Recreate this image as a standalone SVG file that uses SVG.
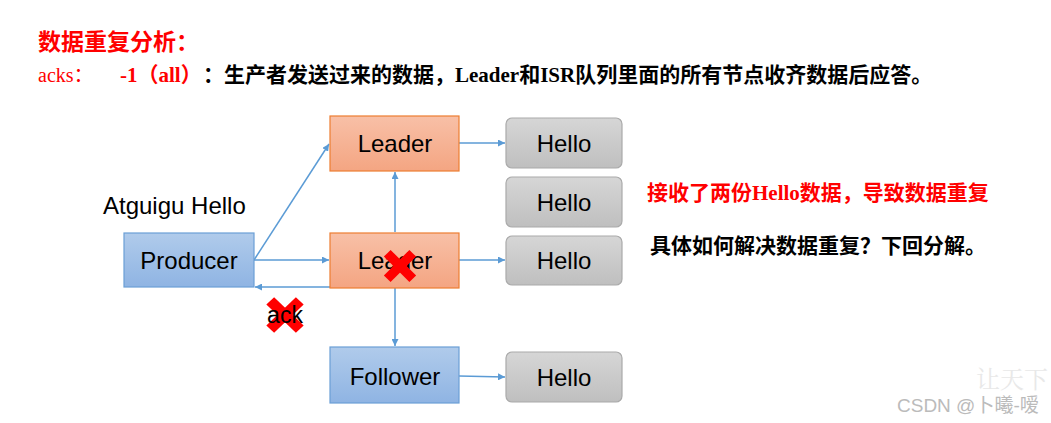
<svg xmlns="http://www.w3.org/2000/svg" width="1051" height="423" viewBox="0 0 1051 423">
<style>
.cn{font-family:"Liberation Serif","Noto Sans CJK SC",serif;font-weight:bold}
.node{font-family:"Liberation Sans",Arial,sans-serif;font-size:24px;text-anchor:middle;fill:#000}
.conn{stroke:#5b9bd5;stroke-width:1.5;fill:none}
.org{fill:url(#gOrg);stroke:#ed7d31;stroke-width:1.2}
.blu{fill:url(#gBlu);stroke:#6b9fd6;stroke-width:1.2}
.gry{fill:url(#gGry);stroke:#aaaaaa;stroke-width:1.2}
</style>
<defs>
<linearGradient id="gOrg" x1="0" y1="0" x2="0" y2="1"><stop offset="0" stop-color="#f8c0a7"/><stop offset="1" stop-color="#f4a582"/></linearGradient>
<linearGradient id="gBlu" x1="0" y1="0" x2="0" y2="1"><stop offset="0" stop-color="#b0cbeb"/><stop offset="1" stop-color="#8fb4e3"/></linearGradient>
<linearGradient id="gGry" x1="0" y1="0" x2="0" y2="1"><stop offset="0" stop-color="#d6d6d6"/><stop offset="1" stop-color="#bfbfbf"/></linearGradient>
<marker id="arr" viewBox="0 0 10 10" refX="10" refY="5" markerWidth="7" markerHeight="7" markerUnits="userSpaceOnUse" orient="auto"><path d="M0,0 L10,5 L0,10 z" fill="#5b9bd5"/></marker>
<g id="xmark" fill="#ff0000"><rect x="-19" y="-5" width="38" height="10" transform="rotate(45)"/><rect x="-19" y="-5" width="38" height="10" transform="rotate(-45)"/></g>
</defs>
<rect width="1051" height="423" fill="#fff"/>

<g id="title">
<text x="38" y="50" font-family="'Noto Sans CJK SC',sans-serif" font-weight="bold" font-size="23" fill="#ff0000">数据重复分析：</text>
</g>
<g id="acks-line">
<text x="38" y="82" font-family="'Liberation Serif','Noto Sans CJK SC',serif" font-size="20" fill="#ff0000">acks：</text>
<text x="120" y="82" class="cn" font-size="21" fill="#ff0000">-1（all）</text>
<text x="203" y="82" class="cn" font-size="21" fill="#000">：生产者发送过来的数据，Leader和ISR队列里面的所有节点收齐数据后应答。</text>
</g>

<g id="connectors">
<line class="conn" x1="254" y1="260" x2="329" y2="144" marker-end="url(#arr)"/>
<line class="conn" x1="254" y1="260" x2="329" y2="260" marker-end="url(#arr)"/>
<line class="conn" x1="330" y1="287" x2="255" y2="287" marker-end="url(#arr)"/>
<line class="conn" x1="395" y1="232" x2="395" y2="172" marker-end="url(#arr)"/>
<line class="conn" x1="395" y1="288" x2="395" y2="346" marker-end="url(#arr)"/>
<line class="conn" x1="459" y1="143" x2="505" y2="143" marker-end="url(#arr)"/>
<line class="conn" x1="459" y1="260" x2="505" y2="260" marker-end="url(#arr)"/>
<line class="conn" x1="459" y1="376" x2="505" y2="377" marker-end="url(#arr)"/>
</g>

<g id="atguigu"><text x="103" y="214" font-family="'Liberation Sans',Arial,sans-serif" font-size="24" fill="#000">Atguigu Hello</text></g>

<g id="producer"><rect class="blu" x="124" y="233" width="130" height="54"/><text class="node" x="189" y="269">Producer</text></g>
<g id="leader1"><rect class="org" x="330" y="116" width="129" height="55"/><text class="node" x="395" y="152">Leader</text></g>
<g id="leader2"><rect class="org" x="330" y="233" width="129" height="55"/><text class="node" x="395" y="269">Leader</text><use href="#xmark" transform="translate(400 266) scale(0.95)"/></g>
<g id="follower"><rect class="blu" x="330" y="347" width="129" height="56"/><text class="node" x="395" y="385">Follower</text></g>

<g id="hello1"><rect class="gry" x="506" y="118" width="116" height="50" rx="6"/><text class="node" x="564" y="152">Hello</text></g>
<g id="hello2"><rect class="gry" x="506" y="177" width="116" height="50" rx="6"/><text class="node" x="564" y="211">Hello</text></g>
<g id="hello3"><rect class="gry" x="506" y="236" width="116" height="49" rx="6"/><text class="node" x="564" y="269">Hello</text></g>
<g id="hello4"><rect class="gry" x="506" y="352" width="116" height="50" rx="6"/><text class="node" x="564" y="386">Hello</text></g>

<g id="ack"><use href="#xmark" transform="translate(285 315) scale(1.1 1.05)"/><text x="285" y="323" font-family="'Liberation Sans',Arial,sans-serif" font-size="23" text-anchor="middle" fill="#000">ack</text></g>

<g id="note1"><text x="647" y="200" class="cn" font-size="21" fill="#ff0000">接收了两份Hello数据，导致数据重复</text></g>
<g id="note2"><text x="650" y="253" class="cn" font-size="21" fill="#000">具体如何解决数据重复？下回分解。</text></g>

<g id="watermark">
<text x="976" y="388" font-family="'Noto Serif CJK SC','Noto Sans CJK SC',serif" font-size="24" fill="#e8e8e8">让天下</text>
<text x="897" y="412" font-family="'Liberation Sans','Noto Sans CJK SC',sans-serif" font-size="19" fill="#bbbbbb">CSDN @卜曦-嗳</text>
</g>
</svg>
